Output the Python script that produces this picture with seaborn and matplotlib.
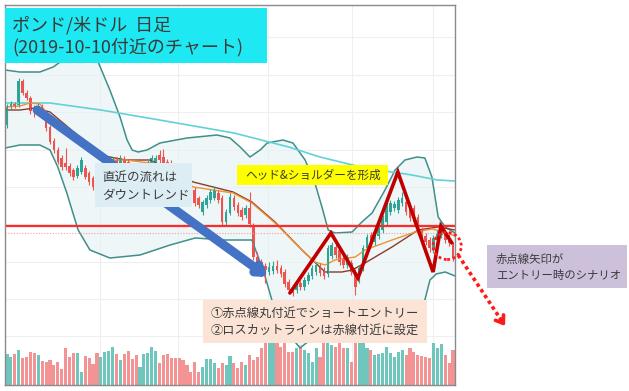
import matplotlib
matplotlib.use("Agg")
import matplotlib.pyplot as plt
from matplotlib.patches import Rectangle, Ellipse
import numpy as np
import pandas as pd
import seaborn as sns

# GBP/USD daily candles
opens = [1.2875, 1.2893, 1.2896, 1.2895, 1.2919, 1.2907, 1.2902, 1.2891, 1.2890, 1.2894,
         1.2888, 1.2873, 1.2859, 1.2850, 1.2842, 1.2837, 1.2834, 1.2830, 1.2824, 1.2828,
         1.2832, 1.2827, 1.2822, 1.2815, 1.2812, 1.2820, 1.2828, 1.2837, 1.2840, 1.2837,
         1.2841, 1.2838, 1.2834, 1.2830, 1.2825, 1.2828, 1.2834, 1.2837, 1.2838, 1.2845,
         1.2843, 1.2838, 1.2837, 1.2833, 1.2828, 1.2824, 1.2820, 1.2815, 1.2810, 1.2802,
         1.2788, 1.2795, 1.2800, 1.2802, 1.2807, 1.2802, 1.2778, 1.2787, 1.2802, 1.2795,
         1.2790, 1.2785, 1.2792, 1.2775, 1.2743, 1.2738, 1.2734, 1.2728, 1.2729, 1.2734,
         1.2732, 1.2728, 1.2718, 1.2712, 1.2710, 1.2717, 1.2713, 1.2719, 1.2724, 1.2728,
         1.2734, 1.2730, 1.2726, 1.2744, 1.2753, 1.2750, 1.2742, 1.2735, 1.2737, 1.2728,
         1.2720, 1.2732, 1.2752, 1.2765, 1.2758, 1.2764, 1.2770, 1.2778, 1.2788, 1.2792,
         1.2790, 1.2797, 1.2798, 1.2793, 1.2792, 1.2783, 1.2770, 1.2764, 1.2760, 1.2750,
         1.2760, 1.2765, 1.2767, 1.2763, 1.2755]
closes = [1.2893, 1.2896, 1.2894, 1.2919, 1.2907, 1.2902, 1.2889, 1.2889, 1.2894, 1.2889,
          1.2872, 1.2858, 1.2850, 1.2838, 1.2833, 1.2833, 1.2827, 1.2823, 1.2832, 1.2840,
          1.2823, 1.2818, 1.2813, 1.2810, 1.2820, 1.2828, 1.2837, 1.2840, 1.2837, 1.2842,
          1.2837, 1.2834, 1.2830, 1.2825, 1.2828, 1.2834, 1.2838, 1.2842, 1.2842, 1.2840,
          1.2837, 1.2834, 1.2833, 1.2828, 1.2824, 1.2820, 1.2815, 1.2810, 1.2797, 1.2795,
          1.2798, 1.2802, 1.2808, 1.2810, 1.2800, 1.2778, 1.2788, 1.2803, 1.2793, 1.2787,
          1.2783, 1.2792, 1.2776, 1.2743, 1.2738, 1.2734, 1.2730, 1.2733, 1.2734, 1.2730,
          1.2726, 1.2716, 1.2710, 1.2707, 1.2716, 1.2713, 1.2720, 1.2725, 1.2732, 1.2735,
          1.2727, 1.2724, 1.2752, 1.2755, 1.2745, 1.2738, 1.2735, 1.2743, 1.2728, 1.2713,
          1.2732, 1.2752, 1.2763, 1.2758, 1.2768, 1.2772, 1.2782, 1.2794, 1.2797, 1.2796,
          1.2800, 1.2802, 1.2788, 1.2782, 1.2778, 1.2768, 1.2764, 1.2758, 1.2752, 1.2762,
          1.2767, 1.2770, 1.2760, 1.2757, 1.2742]
highs = [1.2896, 1.2899, 1.2898, 1.2922, 1.2921, 1.2910, 1.2904, 1.2895, 1.2897, 1.2896,
         1.2890, 1.2875, 1.2862, 1.2853, 1.2845, 1.2852, 1.2837, 1.2832, 1.2835, 1.2843,
         1.2835, 1.2829, 1.2824, 1.2817, 1.2822, 1.2830, 1.2840, 1.2843, 1.2843, 1.2845,
         1.2844, 1.2841, 1.2837, 1.2833, 1.2831, 1.2837, 1.2841, 1.2845, 1.2845, 1.2850,
         1.2851, 1.2841, 1.2840, 1.2836, 1.2831, 1.2827, 1.2823, 1.2818, 1.2813, 1.2804,
         1.2800, 1.2805, 1.2811, 1.2814, 1.2810, 1.2805, 1.2791, 1.2807, 1.2805, 1.2798,
         1.2793, 1.2795, 1.2808, 1.2777, 1.2748, 1.2741, 1.2737, 1.2738, 1.2739, 1.2740,
         1.2735, 1.2731, 1.2721, 1.2715, 1.2719, 1.2720, 1.2723, 1.2728, 1.2735, 1.2738,
         1.2737, 1.2733, 1.2755, 1.2758, 1.2756, 1.2753, 1.2745, 1.2746, 1.2740, 1.2731,
         1.2735, 1.2755, 1.2766, 1.2768, 1.2771, 1.2775, 1.2785, 1.2797, 1.2800, 1.2799,
         1.2803, 1.2808, 1.2801, 1.2796, 1.2795, 1.2786, 1.2773, 1.2767, 1.2763, 1.2765,
         1.2770, 1.2778, 1.2770, 1.2766, 1.2758]
lows = [1.2872, 1.2891, 1.2892, 1.2893, 1.2905, 1.2900, 1.2886, 1.2883, 1.2888, 1.2887,
        1.2869, 1.2856, 1.2847, 1.2836, 1.2830, 1.2830, 1.2824, 1.2820, 1.2822, 1.2826,
        1.2821, 1.2815, 1.2810, 1.2807, 1.2809, 1.2817, 1.2825, 1.2834, 1.2834, 1.2835,
        1.2834, 1.2831, 1.2827, 1.2822, 1.2822, 1.2825, 1.2832, 1.2835, 1.2835, 1.2837,
        1.2834, 1.2831, 1.2830, 1.2825, 1.2821, 1.2817, 1.2812, 1.2807, 1.2794, 1.2792,
        1.2785, 1.2792, 1.2797, 1.2800, 1.2797, 1.2775, 1.2775, 1.2785, 1.2790, 1.2784,
        1.2780, 1.2782, 1.2773, 1.2740, 1.2735, 1.2731, 1.2717, 1.2725, 1.2726, 1.2727,
        1.2723, 1.2713, 1.2707, 1.2704, 1.2707, 1.2710, 1.2710, 1.2716, 1.2721, 1.2725,
        1.2724, 1.2721, 1.2723, 1.2741, 1.2742, 1.2735, 1.2732, 1.2732, 1.2725, 1.2705,
        1.2717, 1.2729, 1.2749, 1.2755, 1.2755, 1.2761, 1.2767, 1.2775, 1.2785, 1.2789,
        1.2787, 1.2794, 1.2785, 1.2779, 1.2775, 1.2765, 1.2761, 1.2755, 1.2748, 1.2747,
        1.2757, 1.2762, 1.2757, 1.2754, 1.2739]
volumes = [31, 28, 31, 35, 27, 28, 33, 32, 30, 24, 23, 25, 20, 23, 16, 37, 28, 32, 32, 13,
           29, 27, 21, 32, 28, 33, 34, 38, 31, 25, 31, 34, 26, 30, 18, 31, 32, 38, 34,
           22, 30, 31, 27, 27, 27, 25, 20, 13, 23, 13, 18, 26, 26, 22, 17, 22, 20, 29, 22,
           17, 23, 20, 30, 25, 28, 37, 50, 50, 50, 50, 38, 50, 33, 33, 37, 40,
           35, 32, 23, 37, 28, 45, 45, 40, 38, 45, 37, 37, 23, 45, 45, 45, 37, 35, 30, 31,
           32, 38, 32, 28, 33, 35, 30, 37, 33, 30, 29, 28, 27, 42, 37, 41, 30, 22, 35]

# indicator lines (candle index, price) read at their turning points
bb_up_idx = [-0.5, 3.3, 8.4, 11.8, 13.6, 18.7, 23.3, 26.3, 28.9, 30.7, 32, 33.5, 35.8, 39.1,
             46, 53.7, 57, 59.6, 62.1, 64.7, 66.5, 70.5, 73.1, 76.2, 78.7, 80.5, 82.1, 83.8,
             88.2, 90.7, 93.3, 96.6, 99.2, 101.7, 104.8, 106.8, 108.6, 110.2, 112, 114.5]
bb_up = [1.2930, 1.2928, 1.2928, 1.2933, 1.2938, 1.2960, 1.2938, 1.2910, 1.2883, 1.2860,
         1.2850, 1.2848, 1.2850, 1.2857, 1.2862, 1.2865, 1.2862, 1.2853, 1.2843, 1.2850,
         1.2857, 1.2860, 1.2857, 1.2840, 1.2817, 1.2793, 1.2770, 1.2767, 1.2768, 1.2778,
         1.2787, 1.2810, 1.2830, 1.2840, 1.2843, 1.2842, 1.2823, 1.2783, 1.2773, 1.2767]
bb_low_idx = [-0.5, 3.3, 8.4, 11, 13, 15.3, 17.4, 18.2, 21.2, 26.3, 34, 41.7, 48.1, 55.7,
              62.6, 64.2, 66, 67.7, 71.1, 74.9, 77.5, 80, 87.7, 95.3, 103, 106.8, 108.1,
              109.7, 112, 114.5]
bb_low = [1.2852, 1.2855, 1.2855, 1.2850, 1.2833, 1.2807, 1.2780, 1.2770, 1.2750, 1.2742,
          1.2745, 1.2755, 1.2762, 1.2760, 1.2760, 1.2743, 1.2723, 1.2700, 1.2670, 1.2652,
          1.2660, 1.2675, 1.2682, 1.2685, 1.2688, 1.2700, 1.2720, 1.2726, 1.2728, 1.2724]
ma_long_idx = [-0.5, 11, 24, 39, 58, 72, 80, 91.5, 103.5, 110, 114.5]
ma_long = [1.2897, 1.2897, 1.2890, 1.2880, 1.2867, 1.2853, 1.2843, 1.2832, 1.2825, 1.2820, 1.2819]
ma_fast_idx = [-0.5, 3.3, 5.9, 8.4, 11, 17.4, 23.8, 30.2, 36.6, 47.6, 57.8, 62.6, 68.5,
               75.4, 78.7, 81.3, 83.8, 89, 91.5, 98.4, 104.3, 108.6, 112, 114.5]
ma_fast = [1.2893, 1.2894, 1.2897, 1.2896, 1.2883, 1.2860, 1.2840, 1.2840, 1.2837, 1.2813,
           1.2807, 1.2797, 1.2777, 1.2750, 1.2738, 1.2735, 1.2740, 1.2743, 1.2750, 1.2760,
           1.2768, 1.2771, 1.2768, 1.2764]
ma_slow_idx = [-0.5, 3.3, 7.2, 11, 17.4, 23.8, 30.2, 36.6, 47.6, 57.8, 62.6, 68.5, 75.4,
               81.3, 85.6, 88.2, 91.5, 98.4, 105.1, 110.2, 114.5]
ma_slow = [1.2890, 1.2890, 1.2892, 1.2888, 1.2867, 1.2845, 1.2840, 1.2840, 1.2818, 1.2808,
           1.2798, 1.2778, 1.2750, 1.2728, 1.2728, 1.2730, 1.2737, 1.2753, 1.2770, 1.2773,
           1.2770]

# drawn annotations
losscut_price = 1.2774
last_price = 1.2767
hs_idx = [72.3, 82.8, 89.7, 99.9, 108.9, 110.9, 113.7]
hs_price = [1.2707, 1.2767, 1.2722, 1.2828, 1.2728, 1.2774, 1.2757]
trend_from = (7.7, 1.2890)
trend_to = (66.7, 1.2723)
entry_circle = (112.5, 1.2754)
scenario_from = (115.3, 1.2745)
scenario_to = (127.3, 1.2674)
grid_idx = [23.8, 43.7, 66.7, 88.2, 108.9]
grid_price = [1.2963, 1.2925, 1.2888, 1.2850, 1.2813, 1.2776, 1.2738, 1.2701, 1.2664]

df = pd.DataFrame({"open": opens, "high": highs, "low": lows, "close": closes, "volume": volumes})
df["idx"] = np.arange(len(df))
df["up"] = df["close"] >= df["open"]

sns.set_style("white")
plt.rcParams["font.family"] = ["Noto Sans CJK JP", "DejaVu Sans"]

W, H = 629, 391
fig = plt.figure(figsize=(W / 100, H / 100), dpi=100)
rect = [5 / W, 6 / H, 450 / W, 380 / H]
ax_vol = fig.add_axes(rect)
ax = fig.add_axes(rect)
ax.set_facecolor("none")

# volume in the bottom of the pane
vol_colors = np.where(df["up"], "#6fc6bc", "#f39393")
ax_vol.bar(df["idx"], df["volume"], width=0.8, color=vol_colors, lw=0)
ax_vol.set_xlim(-0.5, 114.5)
ax_vol.set_ylim(0, 380)
ax_vol.set_xticks(grid_idx)
ax_vol.set_yticks([])
ax_vol.grid(True, axis="x", color="#efefef", lw=0.8)
ax_vol.set_axisbelow(True)
for s in ax_vol.spines.values():
    s.set_visible(False)
ax_vol.tick_params(length=0, labelbottom=False)

# bollinger fill and lines
ax.fill(np.concatenate([bb_up_idx, bb_low_idx[::-1]]),
        np.concatenate([bb_up, bb_low[::-1]]), color="#e6f2f5", alpha=0.65, lw=0)
for xs, ys, c, w in [(bb_up_idx, bb_up, "#3f8f8a", 1.1), (bb_low_idx, bb_low, "#3f8f8a", 1.1),
                     (ma_long_idx, ma_long, "#62d2d6", 1.2), (ma_slow_idx, ma_slow, "#8a3b2c", 1.0),
                     (ma_fast_idx, ma_fast, "#f0922f", 1.0)]:
    sns.lineplot(x=xs, y=ys, ax=ax, color=c, lw=w, estimator=None, sort=False)

# candles
cc = np.where(df["up"], "#2ea594", "#ef5350")
ax.vlines(df["idx"], df["low"], df["high"], colors=cc, lw=0.8)
ax.bar(df["idx"], (df["close"] - df["open"]).abs().clip(lower=0.00015),
       bottom=df[["open", "close"]].min(axis=1), width=0.66, color=cc, lw=0)

ax.axhline(losscut_price, color="#ff2a2a", lw=1.6)
ax.axhline(last_price, color="#f3a0a0", lw=0.8, ls=(0, (1, 1.5)))

ax.plot(hs_idx, hs_price, color="#c00000", lw=2.6, solid_joinstyle="miter", clip_on=False)

ax.annotate("", xy=trend_to, xytext=trend_from,
            arrowprops=dict(arrowstyle="->,head_length=0.45,head_width=0.3", color="#4472c4",
                            lw=6.5, shrinkA=0, shrinkB=0))

ax.add_patch(Ellipse(entry_circle, width=7.2, height=0.0027, fill=False, ec="#ff1a1a",
                     ls=(0, (1, 1)), lw=2, clip_on=False, zorder=5))
ax.plot([scenario_from[0], scenario_to[0] - 0.6], [scenario_from[1], scenario_to[1] + 0.00036],
        color="#ff1a1a", lw=2.6, ls=(0, (1, 0.9)), clip_on=False)
ax.annotate("", xy=scenario_to, xytext=(scenario_to[0] - 1.2, scenario_to[1] + 0.0007),
            arrowprops=dict(arrowstyle="->,head_length=0.5,head_width=0.35", color="#ff1a1a",
                            lw=2.6, shrinkA=0, shrinkB=0), annotation_clip=False)

ax.set_xlim(-0.5, 114.5)
ax.set_ylim(1.2615, 1.2995)
ax.set_xticks(grid_idx)
ax.set_yticks(grid_price)
ax.grid(False)
ax.tick_params(length=0, labelbottom=False, labelleft=False)
ax.set_xlabel("")
ax.set_ylabel("")
for s in ax.spines.values():
    s.set_color("#8a8a8a")
    s.set_linewidth(1.0)

# horizontal grid drawn under everything on the volume axes
for gp in grid_price:
    frac = (gp - 1.2615) / (1.2995 - 1.2615) * 380
    ax_vol.axhline(frac, color="#efefef", lw=0.8, zorder=0)


def note(x0, y0, x1, y1, color, lines, size, tx, tys):
    fig.patches.append(Rectangle((x0 / W, 1 - y1 / H), (x1 - x0) / W, (y1 - y0) / H,
                                 transform=fig.transFigure, facecolor=color, edgecolor="none"))
    for text, ty in zip(lines, tys):
        fig.text(tx / W, 1 - ty / H, text, fontsize=size, color="#3a3a3a", va="center", ha="left")


note(5, 8, 267, 63, "#1ee8f2", ["ポンド/米ドル  日足", "(2019-10-10付近のチャート)"], 13, 12, [25, 47])
note(95, 163, 192, 207, "#dcedf3", ["直近の流れは", "ダウントレンド"], 9, 102, [177, 195])
note(237, 165, 388, 185, "#ffff00", ["ヘッド&ショルダーを形成"], 8.4, 245, [175])
note(203, 300, 427, 343, "#fbe4d5", ["①赤点線丸付近でショートエントリー", "②ロスカットラインは赤線付近に設定"],
     8.8, 211, [313, 330])
note(487, 245, 627, 288, "#ccc0da", ["赤点線矢印が", "エントリー時のシナリオ"], 8.2, 496, [259, 276])

fig.savefig("out.png", dpi=100)
